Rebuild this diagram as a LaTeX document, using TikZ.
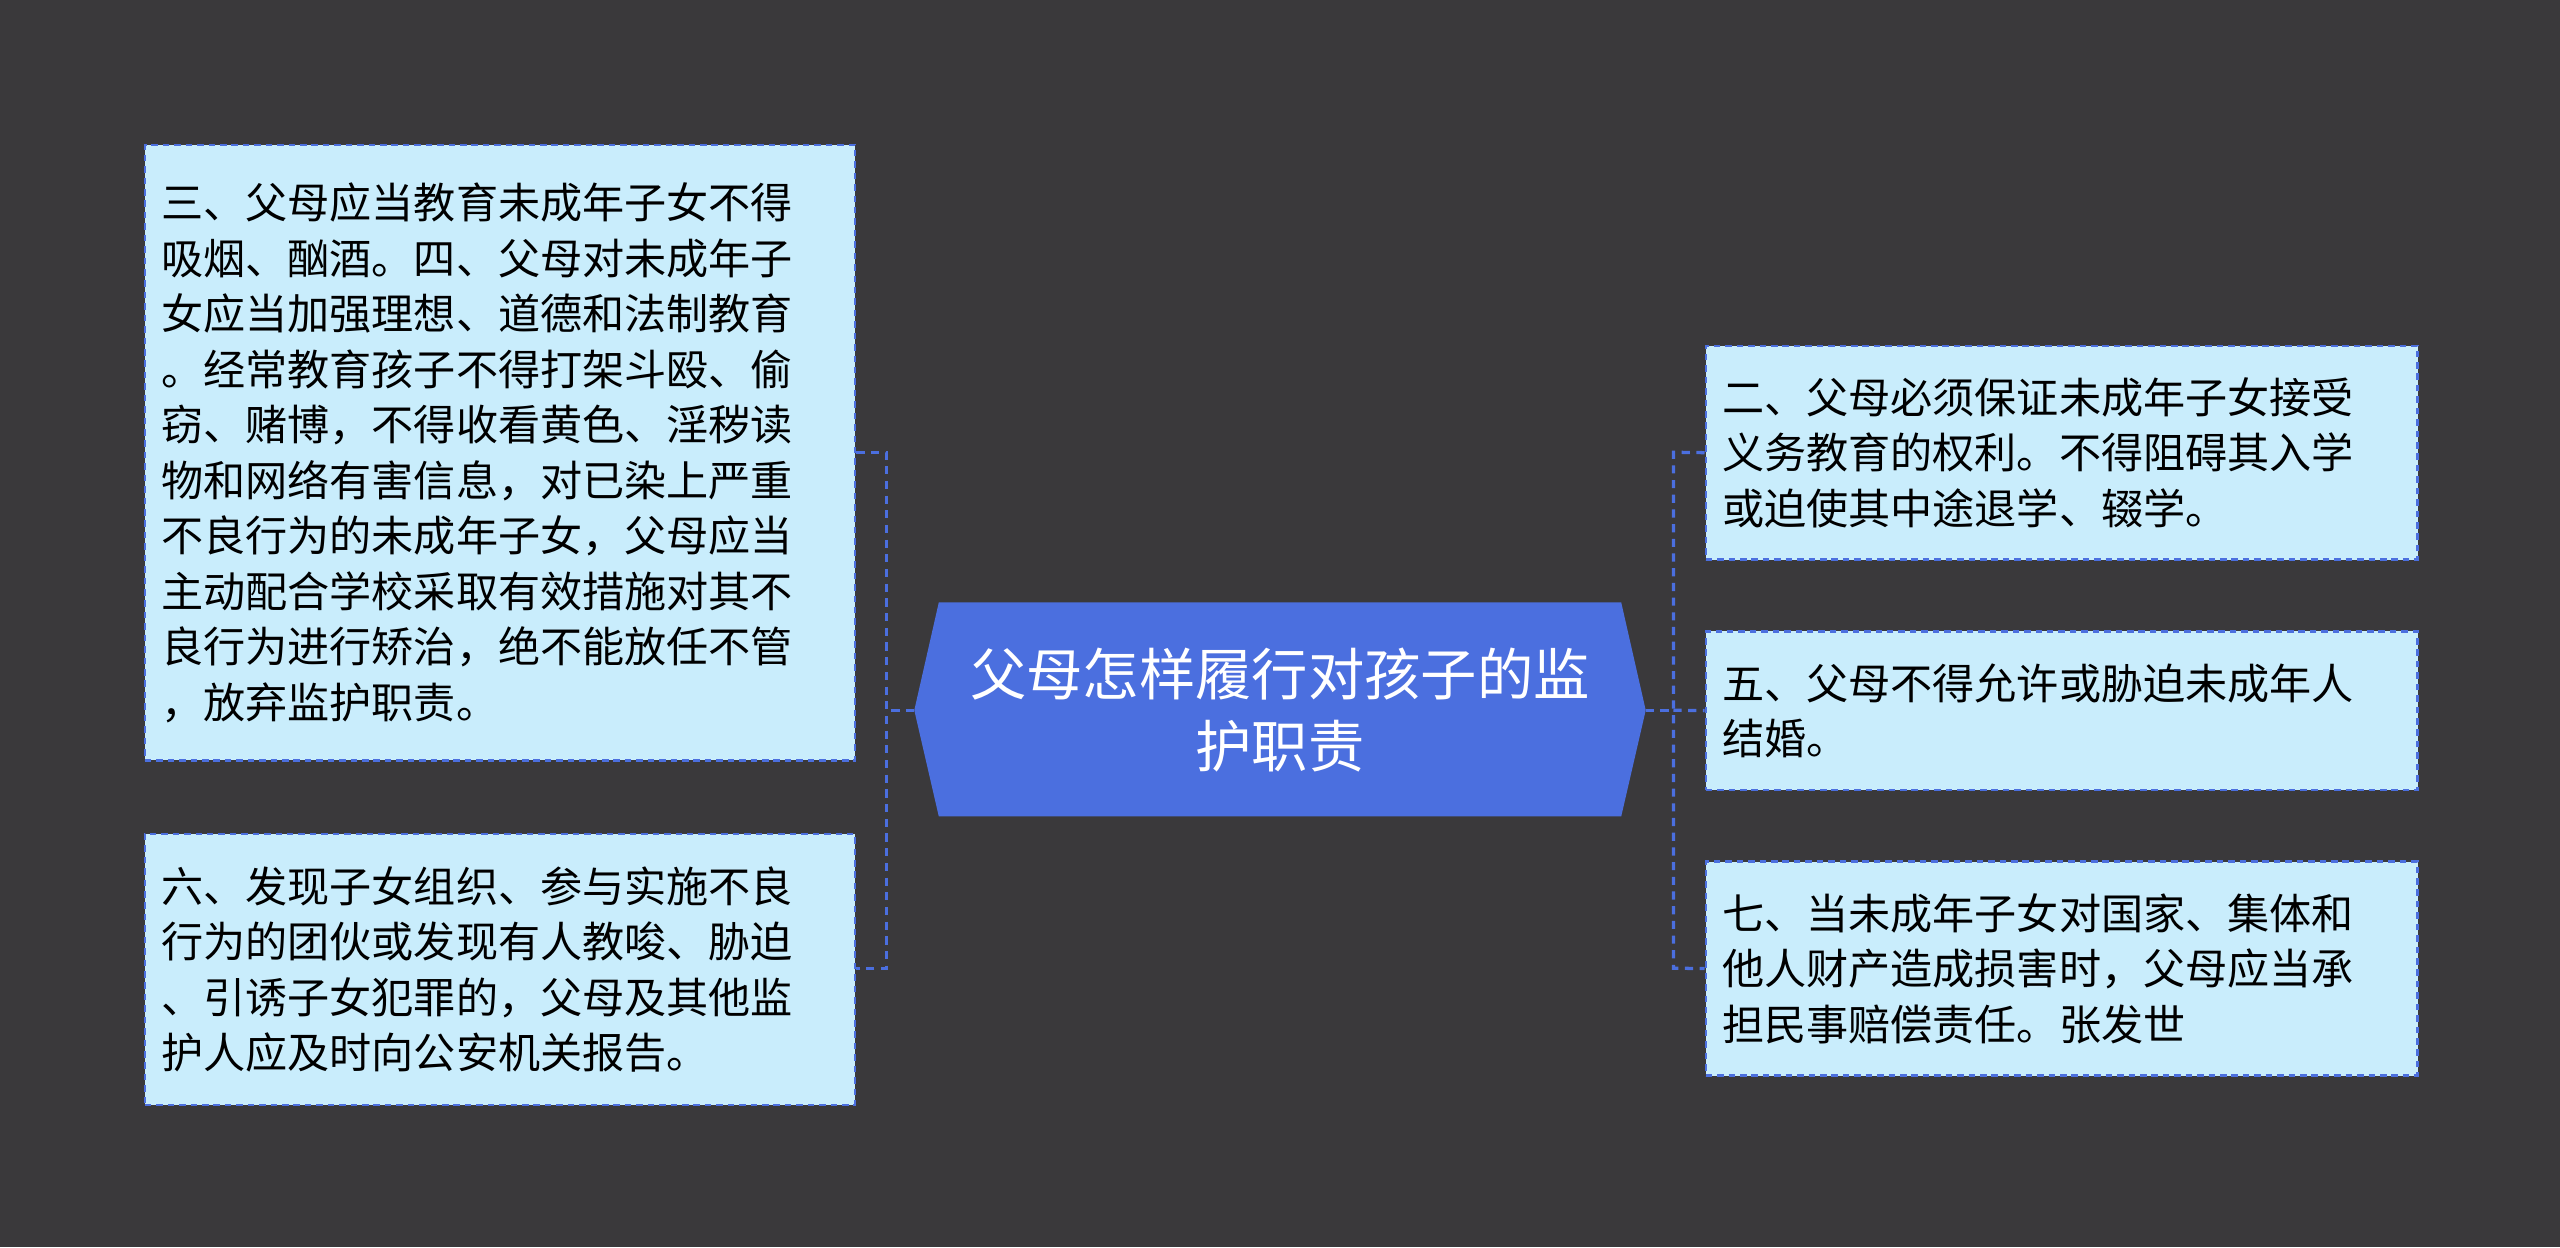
\documentclass[tikz,border=0pt]{standalone}
\usepackage{fontspec}
\setmainfont{Noto Sans CJK SC}
\begin{document}
\begin{tikzpicture}[x=1pt,y=-1pt,
 box/.style={draw=bordc,dash pattern=on 4pt off 3pt,line width=1.5pt,fill=boxc,anchor=north west,inner xsep=10pt,inner ysep=0pt,align=left,font=\fontsize{25.8}{34}\selectfont,text=black},
 link/.style={draw=bordc,line width=2pt,dash pattern=on 5pt off 4pt}]
\definecolor{bg}{HTML}{3A393B}
\definecolor{boxc}{HTML}{C9EDFC}
\definecolor{bordc}{HTML}{4B6FDF}
\definecolor{hexc}{HTML}{4B6FDF}
\fill[bg] (0,0) rectangle (1568,764);
\useasboundingbox (0,0) rectangle (1568,764);
\fill[hexc] (560,435) -- (575,369) -- (993,369) -- (1008,435) -- (993,500) -- (575,500) -- cycle;
\node[font=\fontsize{34.5}{44}\selectfont,text=white,align=center] (c) at (784,435) {父母怎样履行对孩子的监\\护职责};
\coordinate (cl) at (560,435); \coordinate (cr) at (1008,435);
\node[box,minimum width=435pt,minimum height=377pt,text width=415pt] (l1) at (88,88) {三、父母应当教育未成年子女不得\\吸烟、酗酒。四、父母对未成年子\\女应当加强理想、道德和法制教育\\。经常教育孩子不得打架斗殴、偷\\窃、赌博，不得收看黄色、淫秽读\\物和网络有害信息，对已染上严重\\不良行为的未成年子女，父母应当\\主动配合学校采取有效措施对其不\\良行为进行矫治，绝不能放任不管\\，放弃监护职责。};
\node[box,minimum width=435pt,minimum height=166pt,text width=415pt] (l2) at (88,510) {六、发现子女组织、参与实施不良\\行为的团伙或发现有人教唆、胁迫\\、引诱子女犯罪的，父母及其他监\\护人应及时向公安机关报告。};
\node[box,minimum width=436pt,minimum height=131pt,text width=416pt] (r1) at (1044,211) {二、父母必须保证未成年子女接受\\义务教育的权利。不得阻碍其入学\\或迫使其中途退学、辍学。};
\node[box,minimum width=436pt,minimum height=97pt,text width=416pt] (r2) at (1044,386) {五、父母不得允许或胁迫未成年人\\结婚。};
\node[box,minimum width=436pt,minimum height=131pt,text width=416pt] (r3) at (1044,527) {七、当未成年子女对国家、集体和\\他人财产造成损害时，父母应当承\\担民事赔偿责任。张发世};
\draw[link] (cl) -- (543,435);
\draw[link] (l1.east |- 0,277) -- (543,277) -- (543,593) -- (l2.east |- 0,593);
\draw[link] (cr) -- (1025,435);
\draw[link] (r1.west) -- (1025,277) -- (1025,593) -- (r3.west);
\draw[link] (1025,435) -- (r2.west);
\end{tikzpicture}
\end{document}
